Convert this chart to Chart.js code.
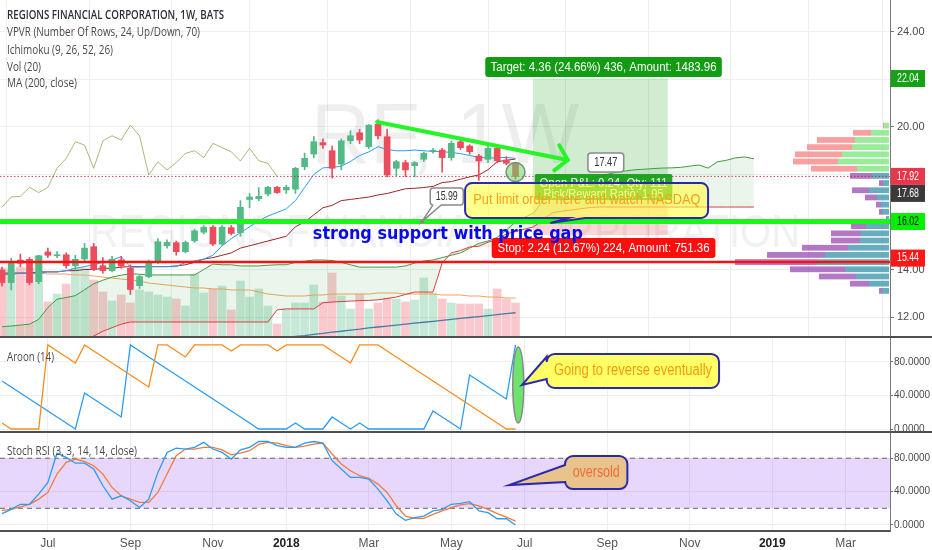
<!DOCTYPE html>
<html>
<head>
<meta charset="utf-8">
<title>RF, 1W</title>
<script src="https://cdn.jsdelivr.net/npm/chart.js@4.4.1/dist/chart.umd.min.js"></script>
<style>
  html, body { margin: 0; padding: 0; background: #ffffff; }
  #wrap { position: relative; width: 932px; height: 550px; overflow: hidden; background: #fff; }
  #wrap canvas { position: absolute; left: 0; }
</style>
</head>
<body>
<div id="wrap">
  <canvas id="priceChart" width="932" height="338" style="top:0px"></canvas>
  <canvas id="aroonChart" width="932" height="95" style="top:338px"></canvas>
  <canvas id="stochChart" width="932" height="117" style="top:433px"></canvas>
</div>
<script>
// weekly bars, index 0 = week of 29 May 2017, last bar = week of 25 Jun 2018
const opens = [13.98, 13.45, 14.40, 14.43, 13.49, 14.74, 14.58, 14.62, 14.16, 14.44,
  14.96, 14.16, 13.95, 14.40, 14.05, 13.32, 13.70, 14.33, 15.00, 15.13,
  14.75, 15.21, 15.57, 15.78, 15.07, 15.76, 15.55, 16.95, 16.98, 17.18,
  17.46, 17.35, 17.38, 18.33, 18.86, 19.34, 19.00, 18.44, 19.42, 19.76,
  19.17, 20.11, 19.59, 18.26, 18.50, 18.37, 18.64, 18.98, 19.03, 18.71,
  19.38, 19.20, 18.78, 18.64, 19.10, 18.61, 18.45];
const highs = [14.10, 14.47, 14.65, 14.50, 14.60, 14.90, 14.75, 14.70, 14.60, 15.10,
  15.10, 14.50, 14.55, 14.55, 14.20, 13.75, 14.40, 15.30, 15.25, 15.20,
  15.20, 15.70, 15.85, 15.85, 15.85, 15.85, 16.90, 17.20, 17.45, 17.50,
  17.50, 17.55, 18.30, 18.90, 19.60, 19.50, 19.20, 19.50, 19.85, 19.90,
  20.10, 20.30, 19.90, 18.60, 18.60, 18.55, 18.95, 19.10, 19.10, 19.40,
  19.45, 19.25, 18.85, 19.20, 19.20, 18.75, 18.50];
const lows = [13.30, 13.14, 14.12, 13.35, 13.40, 14.50, 14.50, 14.05, 14.00, 14.30,
  13.95, 13.85, 13.90, 14.05, 12.95, 13.20, 13.65, 14.25, 14.90, 14.60,
  14.70, 15.15, 15.50, 15.00, 15.00, 15.45, 15.40, 16.60, 16.90, 17.10,
  17.20, 17.20, 17.20, 18.20, 18.70, 19.10, 17.85, 18.20, 19.30, 19.30,
  19.10, 19.50, 17.90, 17.95, 17.90, 17.90, 18.55, 18.90, 18.10, 18.60,
  19.05, 18.85, 17.75, 18.50, 18.50, 18.40, 17.80];
const closes = [13.45, 14.33, 14.26, 13.45, 14.58, 14.60, 14.62, 14.16, 14.43, 14.90,
  14.00, 13.95, 14.43, 14.15, 13.16, 13.70, 14.33, 15.17, 15.14, 14.75,
  15.14, 15.63, 15.78, 15.07, 15.78, 15.52, 16.62, 17.05, 17.08, 17.46,
  17.24, 17.46, 18.26, 18.68, 19.38, 19.24, 18.26, 19.42, 19.63, 19.45,
  20.08, 19.63, 17.98, 18.54, 18.19, 18.50, 18.89, 19.00, 18.71, 19.31,
  19.13, 18.96, 18.57, 19.10, 18.58, 18.47, 17.92];
// volume, millions
const volumes = [70, 68, 71, 70, 82, 36, 44, 54, 70, 70,
  58, 46, 37, 43, 35, 48, 46, 43, 41, 39,
  32, 64, 45, 49, 52, 28, 57, 41, 49, 32,
  14, 29, 35, 35, 53, 36, 65, 42, 29, 44,
  29, 35, 40, 39, 36, 38, 60, 45, 39, 35,
  34, 34, 34, 29, 49, 39, 35];
const volumeMA = [64, 64, 65, 65, 65, 64, 64, 64, 63, 63,
  62, 61, 60, 59, 58, 57, 55, 54, 53, 52,
  51, 50, 50, 49, 49, 48, 48, 48, 46, 44,
  43, 42, 42, 42, 43, 43, 44, 44, 44, 44,
  44, 45, 45, 45, 44, 44, 44, 44, 43, 43,
  43, 42, 42, 41, 41, 40, 40];
// Ichimoku (9, 26, 52, 26)
const tenkan = [13.77, 13.80, 13.84, 13.84, 13.84, 13.90, 13.90, 13.95, 14.05, 14.12,
  14.20, 14.30, 14.40, 14.54, 14.10, 14.10, 14.12, 14.12, 14.12, 14.12,
  14.30, 14.36, 14.44, 14.60, 15.00, 15.30, 15.55, 15.80, 16.05, 16.25,
  16.40, 16.55, 16.90, 17.45, 18.00, 18.28, 18.30, 18.35, 18.55, 18.80,
  18.95, 19.17, 19.05, 19.00, 19.00, 19.03, 19.00, 18.97, 18.96, 18.93,
  18.88, 18.80, 18.72, 18.70, 18.70, 18.72, 18.68];
const kijun = [13.85, 13.85, 13.85, 13.85, 13.90, 13.90, 13.90, 13.95, 13.95, 14.00,
  14.00, 14.05, 14.05, 14.10, 14.12, 14.12, 14.12, 14.12, 14.12, 14.15,
  14.20, 14.30, 14.44, 14.50, 14.60, 14.70, 14.90, 15.00, 15.10, 15.20,
  15.30, 15.40, 15.80, 16.00, 16.30, 16.60, 16.70, 16.90, 16.95, 17.00,
  17.05, 17.14, 17.20, 17.30, 17.40, 17.42, 17.45, 17.50, 17.66, 17.70,
  17.80, 17.90, 17.98, 18.20, 18.54, 18.60, 18.65];
// leading spans, already shifted forward 26 bars (index 0..82)
const senkouA = [11.59, 11.62, 11.66, 11.70, 11.90, 12.40, 12.75, 12.82, 12.90, 13.15,
  13.40, 13.55, 13.68, 13.76, 13.82, 13.80, 13.77, 13.77, 13.77, 13.77,
  13.77, 13.77, 14.00, 14.23, 14.20, 14.20, 14.15, 14.15, 14.15, 14.18,
  14.20, 14.20, 14.30, 14.35, 14.40, 14.40, 14.38, 14.30, 14.20, 14.10,
  14.10, 14.10, 14.10, 14.10, 14.15, 14.27, 14.36, 14.40, 14.50, 14.60,
  14.70, 14.90, 15.10, 15.20, 15.35, 15.66, 16.00, 16.20, 16.38, 16.90,
  17.25, 17.45, 17.60, 17.70, 17.80, 17.90, 18.00, 18.10, 18.15, 18.20,
  18.22, 18.25, 18.27, 18.28, 18.30, 18.35, 18.40, 18.27, 18.53, 18.60,
  18.70, 18.74, 18.66];
const senkouB = [10.60, 10.62, 10.65, 10.70, 10.75, 10.80, 10.85, 10.90, 10.95, 11.05,
  11.20, 11.40, 11.55, 11.70, 11.79, 11.79, 11.79, 11.79, 11.79, 11.79,
  11.79, 11.79, 11.79, 11.79, 11.79, 11.79, 11.79, 11.79, 11.79, 11.79,
  12.30, 12.34, 12.34, 12.34, 12.34, 12.60, 12.63, 12.65, 12.67, 12.69,
  12.70, 12.72, 12.78, 12.84, 12.95, 13.05, 13.05, 13.05, 14.27, 14.70,
  14.80, 14.95, 14.98, 15.15, 15.25, 15.50, 15.60, 15.70, 15.80, 16.10,
  16.38, 16.45, 16.50, 16.55, 16.60, 16.63, 16.63, 16.63, 16.63, 16.63,
  16.63, 16.63, 16.63, 16.63, 16.63, 16.63, 16.63, 16.63, 16.63, 16.63,
  16.63, 16.63, 16.63];
const chikouShift = 26;
// MA (200, close); earlier values sit below the visible range
const ma200 = [null, null, null, null, null, null, null, null, null, null,
  null, null, null, null, null, null, null, null, null, null,
  null, null, null, null, null, null, null, null, null, null,
  11.09, 11.13, 11.18, 11.22, 11.27, 11.31, 11.36, 11.40, 11.45, 11.49,
  11.54, 11.58, 11.62, 11.66, 11.70, 11.74, 11.78, 11.82, 11.86, 11.90,
  11.94, 11.98, 12.02, 12.06, 12.10, 12.14, 12.18];
// VPVR, 24 rows from top (20.21) to bottom (12.95)
const vpvrHigh = 20.21, vpvrLow = 12.95;
const vpvrUp = [4.7, 18, 34, 37, 47, 51, 32, 17, 6, 20, 12, 8, 7, 2, 23, 28, 29, 41, 64, 72, 44, 33, 20, 7];
const vpvrDown = [1.3, 18, 38, 45, 47, 45, 46, 22, 4, 17, 12, 5, 3, 1, 15, 30, 29, 46, 58, 82, 55, 37, 19, 3];
const vpvrValueAreaFirstRow = 7;
// Aroon (14)
const aroonUp = [7.1, 0, 0, 0, 0, 100, 92.9, 85.7, 78.6, 100,
  92.9, 85.7, 78.6, 71.4, 64.3, 57.1, 50, 100, 100, 92.9,
  85.7, 100, 100, 100, 100, 92.9, 100, 100, 100, 100,
  92.9, 100, 100, 100, 100, 100, 92.9, 85.7, 78.6, 100,
  100, 100, 92.9, 85.7, 78.6, 71.4, 64.3, 57.1, 50, 42.9,
  35.7, 28.6, 21.4, 14.3, 7.1, 0, 0];
const aroonDown = [57.1, 50, 42.9, 35.7, 28.6, 21.4, 14.3, 7.1, 0, 42.9,
  35.7, 28.6, 21.4, 14.3, 100, 92.9, 85.7, 78.6, 71.4, 64.3,
  57.1, 50, 42.9, 35.7, 28.6, 21.4, 14.3, 7.1, 0, 0,
  0, 0, 7.1, 0, 0, 0, 14.3, 7.1, 0, 7.1,
  0, 0, 0, 0, 0, 0, 0, 21.4, 14.3, 7.1,
  0, 64.3, 57.1, 50, 42.9, 35.7, 100];
// Stoch RSI (3, 3, 14, 14, close)
const stochK = [13.6, 18.8, 24.8, 24.8, 37, 51, 86, 81, 74, 74,
  67, 47, 31, 35, 29, 21, 31, 63, 87, 92,
  91, 93, 99, 91, 87, 79, 90, 93, 100, 100,
  95, 93, 93, 98, 100, 98, 77, 67, 57, 57,
  55, 43, 29, 13, 5.5, 8.7, 10.7, 16.8, 18.8, 24.8,
  26, 28, 16.8, 14.8, 7.5, 7.5, 0];
const stochD = [17.6, 18.8, 21.6, 24.8, 31, 39, 61, 75, 79, 76,
  71, 61, 45, 35, 31, 27, 27, 39, 61, 83,
  91, 91, 93, 93, 90, 84, 86, 89, 96.5, 99,
  98, 95, 93, 94.5, 97, 98, 85, 73, 65, 59,
  56, 49, 39, 23, 10.7, 8, 8, 12.7, 16.8, 20.8,
  24, 25.6, 22.8, 18.8, 13.6, 9.5, 4.7];
const stochUpperBand = 80, stochLowerBand = 20;

// axes
const xMin = -0.22, xMax = 96.84;
const tickIdx = [5, 14, 23, 31, 40, 49, 57, 66, 75, 84, 92];
const tickLabels = ['Jul', 'Sep', 'Nov', '2018', 'Mar', 'May', 'Jul', 'Sep', 'Nov', '2019', 'Mar'];
const priceTicks = [12, 14, 16, 18, 20, 22, 24];
const oscTicks = [0, 40, 80];

// drawings on the chart (bar index, price)
const supportLevel = 16.02, redLevel = 14.32, lastPrice = 17.92;
const entry = 17.68, target = 22.04, stop = 15.44, posStart = 57.9, posEnd = 72.6;
const trendFrom = [40.9, 20.21], trendTo = [61.7, 18.61];

Chart.defaults.font.family = '"Liberation Sans", Arial, sans-serif';
const gridColor = '#eceef1';
const upColor = '#53b987', downColor = '#eb4d5c';

const X = (c, i) => c.scales.x.getPixelForValue(i);
const Y = (c, v) => c.scales.y.getPixelForValue(v);
const pts = (arr, start) => arr.map((v, i) => ({ x: i + (start || 0), y: v }));

function line(ctx, x0, y0, x1, y1) {
  ctx.beginPath(); ctx.moveTo(x0, y0); ctx.lineTo(x1, y1); ctx.stroke();
}

function fitText(ctx, text, x, y, width, font, color, align) {
  ctx.save();
  ctx.font = font;
  ctx.fillStyle = color;
  ctx.textBaseline = 'middle';
  ctx.textAlign = align || 'left';
  const w = ctx.measureText(text).width;
  ctx.translate(x, y);
  ctx.scale(width / w, 1);
  ctx.fillText(text, 0, 0);
  ctx.restore();
}

// rounded box with an optional pointer on the left or bottom edge
function calloutPath(ctx, x0, y0, x1, y1, r, wedge) {
  ctx.beginPath();
  ctx.moveTo(x0 + r, y0);
  ctx.lineTo(x1 - r, y0); ctx.arcTo(x1, y0, x1, y0 + r, r);
  ctx.lineTo(x1, y1 - r); ctx.arcTo(x1, y1, x1 - r, y1, r);
  if (wedge && wedge.side === 'bottom') {
    ctx.lineTo(wedge.b, y1); ctx.lineTo(wedge.tx, wedge.ty); ctx.lineTo(wedge.a, y1);
  }
  ctx.lineTo(x0 + r, y1); ctx.arcTo(x0, y1, x0, y1 - r, r);
  if (wedge && wedge.side === 'left') {
    ctx.lineTo(x0, wedge.b); ctx.lineTo(wedge.tx, wedge.ty); ctx.lineTo(x0, wedge.a);
  }
  ctx.lineTo(x0, y0 + r); ctx.arcTo(x0, y0, x0 + r, y0, r);
  ctx.closePath();
}

function box(ctx, x0, y0, x1, y1, r, fill, stroke, lw, wedge) {
  calloutPath(ctx, x0, y0, x1, y1, r, wedge);
  if (fill) { ctx.fillStyle = fill; ctx.fill(); }
  if (stroke) { ctx.strokeStyle = stroke; ctx.lineWidth = lw || 1; ctx.stroke(); }
}

function separator(chart) {
  const ctx = chart.ctx;
  ctx.save();
  ctx.fillStyle = '#4f4f4f';
  ctx.fillRect(0, chart.height - 2, chart.width, 2);
  ctx.restore();
}

const xGridOnly = {
  type: 'linear', min: xMin, max: xMax, offset: false,
  afterBuildTicks: s => { s.ticks = tickIdx.map(v => ({ value: v })); },
  ticks: { display: false },
  grid: { color: gridColor, drawTicks: false },
  border: { display: false },
  afterFit: s => { s.height = 0; s.paddingLeft = 0; s.paddingRight = 0; }
};

function yAxis(min, max, ticks, digits, size) {
  return {
    position: 'right', min: min, max: max,
    afterBuildTicks: s => { s.ticks = ticks.map(v => ({ value: v })); },
    ticks: { callback: v => v.toFixed(digits), color: '#4a4a4a', font: { size: size }, padding: digits > 2 ? 1 : 3 },
    grid: { color: gridColor, tickLength: digits > 2 ? 3 : 4, tickColor: '#777' },
    border: { display: true, color: '#777' },
    afterFit: s => { s.width = 42; s.paddingTop = 0; s.paddingBottom = 0; }
  };
}

const baseOptions = {
  responsive: false, animation: false, events: [],
  layout: { padding: 0 },
  plugins: { legend: { display: false }, tooltip: { enabled: false } }
};

// ---------- price pane ----------
const pricePlugin = {
  id: 'priceDrawings',
  beforeDatasetsDraw(chart) {
    const ctx = chart.ctx, a = chart.chartArea;
    const x = i => X(chart, i), y = v => Y(chart, v);
    ctx.save();
    const cx = (a.left + a.right) / 2;
    fitText(ctx, 'RF, 1W', cx, 139, 268, '86px "Liberation Sans"', 'rgba(120,125,135,0.13)', 'center');
    fitText(ctx, 'REGIONS FINANCIAL CORPORATION', cx, 234, 710, '46px "Liberation Sans"', 'rgba(120,125,135,0.11)', 'center');
    ctx.fillStyle = 'rgba(46,170,46,0.22)';
    ctx.fillRect(x(posStart), y(target), x(posEnd) - x(posStart), y(entry) - y(target));
    ctx.fillStyle = 'rgba(240,50,50,0.2)';
    ctx.fillRect(x(posStart), y(entry), x(posEnd) - x(posStart), y(stop) - y(entry));
    ctx.restore();
  },
  afterDatasetsDraw(chart) {
    const ctx = chart.ctx, a = chart.chartArea;
    const x = i => X(chart, i), y = v => Y(chart, v);
    ctx.save();

    // visible range volume profile
    const rowH = (vpvrHigh - vpvrLow) / vpvrUp.length;
    vpvrUp.forEach((up, r) => {
      const top = y(vpvrHigh - r * rowH) + 0.7, bot = y(vpvrHigh - (r + 1) * rowH) - 0.7;
      const inVA = r >= vpvrValueAreaFirstRow;
      const right = a.right - 1;
      ctx.fillStyle = inVA ? 'rgba(60,150,172,0.78)' : 'rgba(120,228,120,0.75)';
      ctx.fillRect(right - up, top, up, bot - top);
      ctx.fillStyle = inVA ? 'rgba(158,82,180,0.78)' : 'rgba(246,128,128,0.75)';
      ctx.fillRect(right - up - vpvrDown[r], top, vpvrDown[r], bot - top);
    });

    // horizontal levels
    ctx.strokeStyle = 'rgba(200,40,60,0.85)'; ctx.lineWidth = 1; ctx.setLineDash([1.5, 2]);
    line(ctx, a.left, y(lastPrice), a.right, y(lastPrice));
    ctx.setLineDash([]);
    ctx.strokeStyle = '#ff1010'; ctx.lineWidth = 2.5;
    line(ctx, a.left, y(redLevel), a.right, y(redLevel));
    ctx.strokeStyle = '#1cf51c'; ctx.lineWidth = 5;
    line(ctx, a.left, y(supportLevel), a.right, y(supportLevel));

    // trend arrow
    const ax0 = x(trendFrom[0]), ay0 = y(trendFrom[1]), ax1 = x(trendTo[0]), ay1 = y(trendTo[1]);
    ctx.strokeStyle = '#25f525'; ctx.lineWidth = 4; ctx.lineCap = 'round';
    line(ctx, ax0, ay0, ax1, ay1);
    const ang = Math.atan2(ay1 - ay0, ax1 - ax0);
    [-0.85, 0.85].forEach(d => line(ctx, ax1, ay1, ax1 - 17 * Math.cos(ang + d), ay1 - 17 * Math.sin(ang + d)));
    ctx.lineCap = 'butt';

    // marker on the last bar
    ctx.beginPath(); ctx.arc(x(56), y(18.1), 9.5, 0, Math.PI * 2);
    ctx.fillStyle = 'rgba(105,215,105,0.55)'; ctx.fill();
    ctx.strokeStyle = 'rgba(110,130,110,0.9)'; ctx.lineWidth = 1.5; ctx.stroke();

    // long position labels
    box(ctx, x(52.7), y(22.95), x(78.5), y(22.1), 3, '#119c11');
    fitText(ctx, 'Target: 4.36 (24.66%) 436, Amount: 1483.96', (x(52.7) + x(78.5)) / 2, (y(22.95) + y(22.1)) / 2,
      226, '13px "Liberation Sans"', '#ffffff', 'center');
    box(ctx, x(58.1), y(18.02), x(73.1), y(16.93), 2, 'rgba(20,160,20,0.92)');
    fitText(ctx, 'Open P&L: 0.24, Qty: 111', (x(58.1) + x(73.1)) / 2, y(17.6), 128, '12px "Liberation Sans"', '#ffffff', 'center');
    fitText(ctx, 'Risk/Reward Ratio: 1.95', (x(58.1) + x(73.1)) / 2, y(17.14), 120, '12px "Liberation Sans"', '#ffffff', 'center');

    // yellow note
    box(ctx, x(50.5), y(17.64), x(77.0), y(16.17), 7, 'rgba(255,255,70,0.62)', '#2a2aa8', 2,
      { side: 'bottom', a: x(61.8), b: x(63.6), tx: x(59.8), ty: y(15.96) });
    fitText(ctx, 'Put limit order here and watch NASDAQ', x(51.4), y(16.93), 227, '15px "Liberation Sans"', '#f5a01a', 'left');

    box(ctx, x(53.4), y(15.33), x(77.8), y(14.48), 3, '#ff0d0d');
    fitText(ctx, 'Stop: 2.24 (12.67%) 224, Amount: 751.36', (x(53.4) + x(77.8)) / 2, (y(15.33) + y(14.48)) / 2,
      212, '13px "Liberation Sans"', '#ffffff', 'center');

    fitText(ctx, 'strong support with price gap', x(33.9), y(15.49), 270, 'bold 18px "DejaVu Sans"', '#0a0ae6', 'left');

    // price notes
    box(ctx, x(46.7), y(17.43), x(50.3), y(16.72), 3, '#ffffff', '#8a8a8a', 1.5,
      { side: 'bottom', a: x(47.0), b: x(47.9), tx: x(45.8), ty: y(supportLevel) });
    ctx.beginPath(); ctx.arc(x(45.8), y(supportLevel), 2, 0, Math.PI * 2); ctx.fillStyle = '#888'; ctx.fill();
    fitText(ctx, '15.99', (x(46.7) + x(50.3)) / 2, (y(17.43) + y(16.72)) / 2, 22, '12px "Liberation Sans"', '#333', 'center');
    box(ctx, x(63.9), y(18.91), x(67.8), y(18.11), 3, '#ffffff', '#8a8a8a', 1.5);
    fitText(ctx, '17.47', (x(63.9) + x(67.8)) / 2, (y(18.91) + y(18.11)) / 2, 23, '12px "Liberation Sans"', '#333', 'center');

    // price scale labels
    const labels = [
      { text: '22.04', at: target, bg: '#16a016', fg: '#fff' },
      { text: '17.92', at: lastPrice, bg: '#e8374b', fg: '#fff' },
      { text: '17.68', at: entry, bg: '#3a3a3a', fg: '#fff' },
      { text: '16.02', at: supportLevel, bg: '#00f000', fg: '#111' },
      { text: '15.44', at: 14.48, bg: '#ff1616', fg: '#fff' }
    ];
    let lastBottom = -1e9;
    labels.map(l => Object.assign({ cy: y(l.at) }, l)).sort((p, q) => p.cy - q.cy).forEach(l => {
      const cy = Math.max(l.cy, lastBottom + 8.5);
      lastBottom = cy + 8.5;
      ctx.fillStyle = l.bg;
      ctx.fillRect(a.right + 1, cy - 8.5, 34, 17);
      fitText(ctx, l.text, a.right + 18, cy, 22, '12px "Liberation Sans"', l.fg, 'center');
    });

    // legend
    fitText(ctx, 'REGIONS FINANCIAL CORPORATION, 1W, BATS', 7, 16, 217, '600 12px "Open Sans"', '#2a2e39', 'left');
    fitText(ctx, 'VPVR (Number Of Rows, 24, Up/Down, 70)', 7, 33, 193, '12px "Open Sans"', '#4a4a4a', 'left');
    fitText(ctx, 'Ichimoku (9, 26, 52, 26)', 7, 51, 106, '12px "Open Sans"', '#4a4a4a', 'left');
    fitText(ctx, 'Vol (20)', 7, 68, 34, '12px "Open Sans"', '#4a4a4a', 'left');
    fitText(ctx, 'MA (200, close)', 7, 84, 70, '12px "Open Sans"', '#4a4a4a', 'left');
    ctx.restore();
  },
  afterDraw: separator
};

const candleColors = closes.map((c, i) => c >= opens[i] ? upColor : downColor);
const volColors = closes.map((c, i) => c >= opens[i] ? 'rgba(83,185,135,0.33)' : 'rgba(235,77,92,0.3)');

new Chart(document.getElementById('priceChart'), {
  type: 'bar',
  data: {
    datasets: [
      { type: 'bar', label: 'Volume', yAxisID: 'vol', data: pts(volumes), backgroundColor: volColors,
        barThickness: 8, grouped: false, order: 20 },
      { type: 'line', label: 'Volume MA', yAxisID: 'vol', data: pts(volumeMA), borderColor: '#f7a35c',
        borderWidth: 1, pointRadius: 0, order: 19 },
      { type: 'line', label: 'Lead 1', data: pts(senkouA), borderColor: '#3f9b3f', borderWidth: 1, pointRadius: 0,
        fill: { target: '+1', above: 'rgba(67,160,71,0.11)', below: 'rgba(229,57,53,0.11)' }, order: 15 },
      { type: 'line', label: 'Lead 2', data: pts(senkouB), borderColor: '#d84040', borderWidth: 1, pointRadius: 0, order: 14 },
      { type: 'line', label: 'MA 200', data: pts(ma200), borderColor: '#4a7ca0', borderWidth: 1.3, pointRadius: 0, order: 13 },
      { type: 'line', label: 'Lagging Span', data: pts(closes.slice(chikouShift)), borderColor: 'rgba(120,150,50,0.65)',
        borderWidth: 1, pointRadius: 0, order: 12 },
      { type: 'line', label: 'Base Line', data: pts(kijun), borderColor: '#9c2525', borderWidth: 1, pointRadius: 0, order: 11 },
      { type: 'line', label: 'Conversion Line', data: pts(tenkan), borderColor: '#2b9cf2', borderWidth: 1, pointRadius: 0, order: 10 },
      { type: 'bar', label: 'Wick', data: opens.map((o, i) => ({ x: i, y: [lows[i], highs[i]] })),
        backgroundColor: candleColors, barThickness: 1, grouped: false, order: 2 },
      { type: 'bar', label: 'Body', data: opens.map((o, i) => ({ x: i, y: [o, closes[i]] })),
        backgroundColor: candleColors, barThickness: 6, minBarLength: 1, grouped: false, order: 1 }
    ]
  },
  options: Object.assign({}, baseOptions, {
    scales: {
      x: xGridOnly,
      y: yAxis(11.116, 25.347, priceTicks, 2, 11),
      vol: { type: 'linear', axis: 'y', display: false, min: 0, max: 338 }
    }
  }),
  plugins: [pricePlugin]
});

// ---------- Aroon pane ----------
const aroonPlugin = {
  id: 'aroonDrawings',
  afterDatasetsDraw(chart) {
    const ctx = chart.ctx;
    const x = i => X(chart, i), y = v => Y(chart, v);
    ctx.save();
    fitText(ctx, 'Aroon (14)', 7, 20, 47, '12px "Open Sans"', '#4a4a4a', 'left');
    ctx.beginPath(); ctx.ellipse(x(56.3), y(52.4), 5.5, 38, 0, 0, Math.PI * 2);
    ctx.fillStyle = '#6ee46e'; ctx.fill();
    ctx.strokeStyle = '#8a8a8a'; ctx.lineWidth = 1.5; ctx.stroke();
    box(ctx, x(59.4), y(89.3), x(78.2), y(48.8), 8, '#ffff66', '#2a2aa8', 2,
      { side: 'left', a: y(86), b: y(59.5), tx: x(56.7), ty: y(52.4) });
    fitText(ctx, 'Going to reverse eventually', x(60.2), y(69), 158, '16px "Liberation Sans"', '#f59a10', 'left');
    ctx.restore();
  },
  afterDraw: separator
};

new Chart(document.getElementById('aroonChart'), {
  type: 'line',
  data: {
    datasets: [
      { label: 'Aroon Up', data: pts(aroonUp), borderColor: '#fb8c1e', borderWidth: 1.3, pointRadius: 0 },
      { label: 'Aroon Down', data: pts(aroonDown), borderColor: '#2b9cf2', borderWidth: 1.3, pointRadius: 0 }
    ]
  },
  options: Object.assign({}, baseOptions, {
    scales: { x: xGridOnly, y: yAxis(-4.76, 108.3, oscTicks, 4, 10) }
  }),
  plugins: [aroonPlugin]
});

// ---------- Stoch RSI pane ----------
const stochPlugin = {
  id: 'stochDrawings',
  beforeDatasetsDraw(chart) {
    const ctx = chart.ctx, a = chart.chartArea;
    const y = v => Y(chart, v);
    ctx.save();
    ctx.fillStyle = 'rgba(155,80,245,0.23)';
    ctx.fillRect(a.left, y(stochUpperBand), a.right - a.left, y(stochLowerBand) - y(stochUpperBand));
    ctx.strokeStyle = '#666'; ctx.lineWidth = 1; ctx.setLineDash([5, 4]);
    line(ctx, a.left, y(stochUpperBand), a.right, y(stochUpperBand));
    line(ctx, a.left, y(stochLowerBand), a.right, y(stochLowerBand));
    ctx.restore();
  },
  afterDatasetsDraw(chart) {
    const ctx = chart.ctx;
    const x = i => X(chart, i), y = v => Y(chart, v);
    ctx.save();
    fitText(ctx, 'Stoch RSI (3, 3, 14, 14, close)', 7, 19, 130, '12px "Open Sans"', '#4a4a4a', 'left');
    box(ctx, x(61.4), y(82.6), x(68.2), y(43.1), 8, '#e8c48c', '#2a2aa8', 2,
      { side: 'left', a: y(71.9), b: y(51.5), tx: x(55.3), ty: y(47.9) });
    fitText(ctx, 'oversold', (x(61.4) + x(68.2)) / 2, y(62.8), 47, '16px "Liberation Sans"', '#f26a3a', 'center');
    ctx.restore();
  }
};

new Chart(document.getElementById('stochChart'), {
  type: 'line',
  data: {
    datasets: [
      { label: 'K', data: pts(stochK), borderColor: '#2b9cf2', borderWidth: 1.3, pointRadius: 0 },
      { label: 'D', data: pts(stochD), borderColor: '#f47a3a', borderWidth: 1.3, pointRadius: 0 }
    ]
  },
  options: Object.assign({}, baseOptions, {
    scales: {
      x: {
        type: 'linear', min: xMin, max: xMax, offset: false,
        afterBuildTicks: s => { s.ticks = tickIdx.map(v => ({ value: v })); },
        ticks: {
          autoSkip: false, maxRotation: 0, padding: 5,
          callback: (v, i) => tickLabels[i],
          font: c => ({ size: 12, weight: /^\d{4}$/.test(tickLabels[c.index]) ? 'bold' : 'normal' }),
          color: c => /^\d{4}$/.test(tickLabels[c.index]) ? '#222' : '#555'
        },
        grid: { color: gridColor, drawTicks: false },
        border: { display: true, color: '#4f4f4f', width: 2 },
        afterFit: s => { s.height = 19; s.paddingLeft = 0; s.paddingRight = 0; }
      },
      y: yAxis(-7.19, 110.2, oscTicks, 4, 10)
    }
  }),
  plugins: [stochPlugin]
});
</script>
</body>
</html>
